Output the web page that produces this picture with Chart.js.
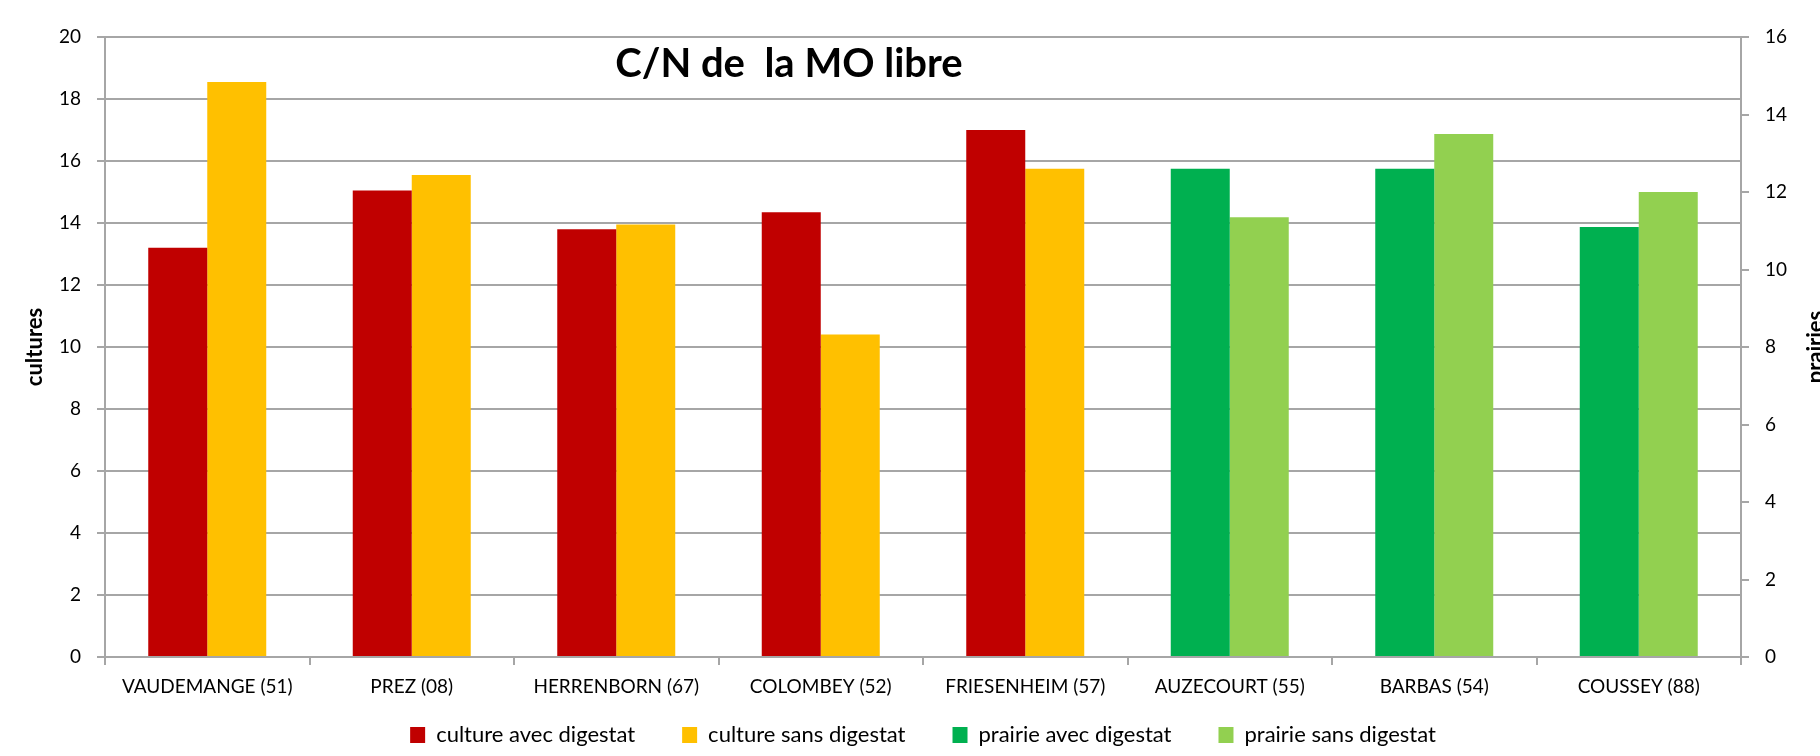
<!DOCTYPE html>
<html>
<head>
<meta charset="utf-8">
<script src="https://cdn.jsdelivr.net/npm/chart.js@4"></script>
<style>
  html, body { margin: 0; padding: 0; background: #fff; }
  #wrap { width: 1820px; height: 756px; }
</style>
</head>
<body>
<div id="wrap"><canvas id="myChart" width="1820" height="756"></canvas></div>
<script>
// sites
const categories = ['VAUDEMANGE (51)', 'PREZ (08)', 'HERRENBORN (67)', 'COLOMBEY (52)',
    'FRIESENHEIM (57)', 'AUZECOURT (55)', 'BARBAS (54)', 'COUSSEY (88)'];

// C/N values, cultures on the left axis, prairies on the right axis
const cultureAvec = [13.2, 15.05, 13.8, 14.35, 17.0, null, null, null];
const cultureSans = [18.55, 15.55, 13.95, 10.4, 15.75, null, null, null];
const prairieAvec = [null, null, null, null, null, 12.6, 12.6, 11.1];
const prairieSans = [null, null, null, null, null, 11.35, 13.5, 12.0];

const seriesNames = ['culture avec digestat', 'culture sans digestat', 'prairie avec digestat', 'prairie sans digestat'];
const chartTitle = 'C/N de  la MO libre';
const leftTitle = 'cultures';
const rightTitle = 'prairies';

const COLORS = {
    RED: '#C00000',
    YELLOW: '#FFC000',
    GREEN: '#00B050',
    LIGHTGREEN: '#92D050'
};
const GRID = '#a6a6a6';
const FONT = 'Lato, "Open Sans", sans-serif';

// title inside the plot + right axis title reading bottom to top
const textPlugin = {
    id: 'textPlugin',
    afterDraw(chart) {
        const ctx = chart.ctx;
        ctx.save();
        ctx.fillStyle = '#000';
        ctx.font = 'bold 40px ' + FONT;
        ctx.textAlign = 'center';
        ctx.textBaseline = 'middle';
        ctx.fillText(chartTitle, 789, 64);

        ctx.translate(1823, 347);
        ctx.rotate(-Math.PI / 2);
        ctx.font = 'bold 22px ' + FONT;
        ctx.textBaseline = 'alphabetic';
        ctx.fillText(rightTitle, 0, 0);
        ctx.restore();
    }
};

function bar(label, data, color, axis) {
    return {
        label: label,
        data: data,
        backgroundColor: color,
        borderWidth: 0,
        yAxisID: axis,
        categoryPercentage: 0.577,
        barPercentage: 1.0,
        skipNull: true
    };
}

const ctx = document.getElementById('myChart').getContext('2d');
const myChart = new Chart(ctx, {
    type: 'bar',
    data: {
        labels: categories,
        datasets: [
            bar(seriesNames[0], cultureAvec, COLORS.RED, 'y'),
            bar(seriesNames[1], cultureSans, COLORS.YELLOW, 'y'),
            bar(seriesNames[2], prairieAvec, COLORS.GREEN, 'y1'),
            bar(seriesNames[3], prairieSans, COLORS.LIGHTGREEN, 'y1')
        ]
    },
    options: {
        responsive: false,
        animation: false,
        devicePixelRatio: 1,
        layout: { padding: { top: 37, left: 0, right: 0, bottom: 0 } },
        plugins: {
            title: { display: false },
            tooltip: { enabled: false },
            legend: {
                position: 'bottom',
                fullSize: false,
                labels: {
                    font: { family: FONT, size: 22 },
                    color: '#000',
                    boxWidth: 15,
                    boxHeight: 16,
                    padding: 47
                }
            }
        },
        scales: {
            x: {
                grid: { offset: true, drawOnChartArea: false, color: GRID, lineWidth: 2, tickLength: 8 },
                border: { display: true, color: GRID, width: 2 },
                ticks: { font: { family: FONT, size: 19 }, color: '#000', padding: 10, maxRotation: 0, autoSkip: false },
                afterFit(scale) {
                    scale.height = 20;
                    // labels hang below the thin box, so don't clip them
                    scale._computeLabelArea = () => undefined;
                }
            },
            y: {
                position: 'left',
                min: 0,
                max: 20,
                ticks: { stepSize: 2, font: { family: FONT, size: 19 }, color: '#000', padding: 16 },
                grid: { color: GRID, lineWidth: 2, tickLength: 8 },
                border: { display: true, color: GRID, width: 2 },
                title: { display: true, text: leftTitle, font: { family: FONT, size: 22, weight: 'bold' }, color: '#000', padding: 22 },
                afterFit(scale) { scale.width = 105; }
            },
            y1: {
                position: 'right',
                min: 0,
                max: 16,
                ticks: { stepSize: 2, font: { family: FONT, size: 19 }, color: '#000', padding: 16 },
                grid: { drawOnChartArea: false, color: GRID, lineWidth: 2, tickLength: 8 },
                border: { display: true, color: GRID, width: 2 },
                afterFit(scale) { scale.width = 79; }
            }
        }
    },
    plugins: [textPlugin]
});
</script>
</body>
</html>
